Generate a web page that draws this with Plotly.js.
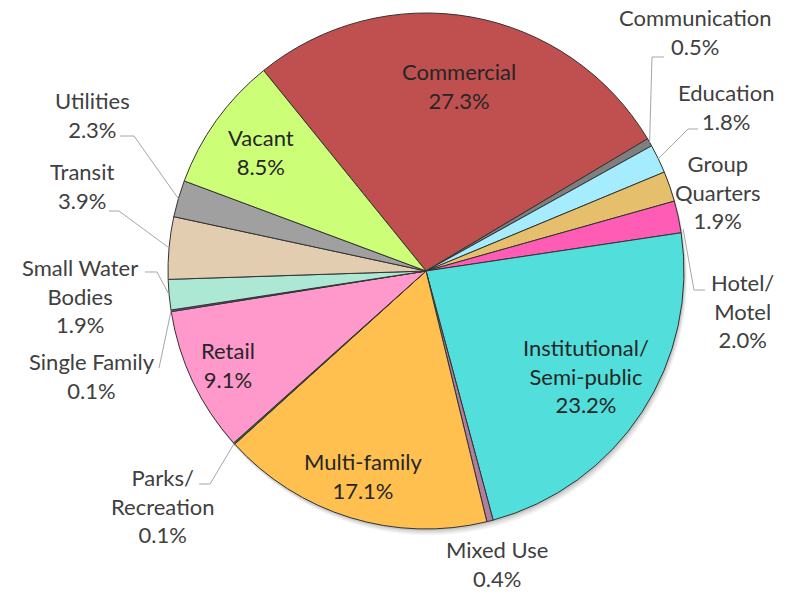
<!DOCTYPE html>
<html><head><meta charset="utf-8">
<script src="https://cdn.plot.ly/plotly-3.0.1.min.js"></script>
<style>html,body{margin:0;padding:0;background:#fff}#chart{width:798px;height:594px}</style>
</head><body><div id="chart"></div>
<script>
// ---- data ----
const categories = ['Commercial','Communication','Education','Group Quarters','Hotel/Motel','Institutional/Semi-public','Mixed Use','Multi-family','Parks/Recreation','Retail','Single Family','Small Water Bodies','Transit','Utilities','Vacant'];
const displayLabels = ['Commercial','Communication','Education','Group<br>Quarters','Hotel/<br>Motel','Institutional/<br>Semi-public','Mixed Use','Multi-family','Parks/<br>Recreation','Retail','Single Family','Small Water<br>Bodies','Transit','Utilities','Vacant'];
const shares = [27.3,0.5,1.8,1.9,2.0,23.2,0.4,17.1,0.1,9.1,0.1,1.9,3.9,2.3,8.5];

// ---- styles ----
const sliceColors = ['#C0504F','#7F7F7F','#A6ECFF','#E6BF6C','#FF5CB6','#52DEDB','#B07FA0','#FFC050','#2E6B3A','#FF99CC','#8064A2','#ADE8D4','#E2CDB0','#A0A0A0','#CCFF77'];

// ---- layout geometry (pixels) ----
const W = 798, H = 594, CX = 426, CY = 271, R = 258, START = -39;
const px = x => x / W, py = y => 1 - y / H;

// label placement (layout only)
const insideRadius = {0:0.73, 5:0.74, 7:0.83, 9:0.85, 14:0.79};
const outsidePlacement = {
  1:  {t:[695,32],  knee:[[664,57],[652,57]]},
  2:  {t:[726,107], knee:[[698,129],[688,129]]},
  3:  {t:[718,192], knee:null},
  4:  {t:[742,311], knee:[[705,290],[694,290]], frac:0.9, rr:1.01},
  6:  {t:[497,564], knee:null},
  8:  {t:[162,506], knee:[[199,484],[210,484]]},
  10: {t:[92,376],  knee:[[159,368]]},
  11: {t:[80,296],  knee:[[145,272],[157,272]]},
  12: {t:[82,186],  knee:[[109,211],[119,211]]},
  13: {t:[92,115],  knee:[[120,136],[134,136]]}
};

const total = shares.reduce((a,b)=>a+b,0);
let cum = 0;
const startFrac = shares.map(v => { const s = cum; cum += v; return s; });
function pointAt(i, frac, rr) {
  const a = (START + 360 * (startFrac[i] + shares[i]*frac) / total) * Math.PI / 180;
  return [CX + rr*R*Math.sin(a), CY - rr*R*Math.cos(a)];
}

const annotations = [];
const shapes = [];
// soft shadow
[[1,2,0.10],[2,4,0.08],[3,6,0.06]].forEach(([dx,dy,o]) => {
  shapes.push({type:'circle', xref:'paper', yref:'paper', layer:'below',
    x0:px(CX-R+dx), x1:px(CX+R+dx), y0:py(CY+R+dy), y1:py(CY-R+dy),
    fillcolor:'rgba(0,0,0,'+o+')', line:{width:0}});
});

shares.forEach((v,i) => {
  const txt = displayLabels[i] + '<br>' + v.toFixed(1) + '%';
  if (insideRadius[i] !== undefined) {
    const [x,y] = pointAt(i, 0.5, insideRadius[i]);
    annotations.push({xref:'paper', yref:'paper', x:px(x), y:py(y), text:txt, showarrow:false,
      xanchor:'center', yanchor:'middle', align:'center', font:{family:'Lato, sans-serif', size:22, color:'#262626'}});
  } else {
    const p = outsidePlacement[i];
    annotations.push({xref:'paper', yref:'paper', x:px(p.t[0]), y:py(p.t[1]), text:txt, showarrow:false,
      xanchor:'center', yanchor:'middle', align:'center', font:{family:'Lato, sans-serif', size:22, color:'#404040'}});
    if (p.knee) {
      const end = pointAt(i, p.frac !== undefined ? p.frac : 0.5, p.rr || 1.0);
      const pts = p.knee.concat([end]);
      const path = pts.map((q,k) => (k ? 'L' : 'M') + px(q[0]).toFixed(5) + ',' + py(q[1]).toFixed(5)).join(' ');
      shapes.push({type:'path', xref:'paper', yref:'paper', path:path, layer:'above',
        line:{color:'#A6A6A6', width:1}});
    }
  }
});

const trace = {
  type:'pie', labels:categories, values:shares, sort:false, direction:'clockwise', rotation:START,
  textinfo:'none', hoverinfo:'label+percent',
  marker:{colors:sliceColors, line:{color:'#333333', width:1}},
  domain:{x:[px(CX-R), px(CX+R)], y:[py(CY+R), py(CY-R)]},
  showlegend:false
};

Plotly.newPlot('chart', [trace], {
  width:W, height:H, margin:{l:0,r:0,t:0,b:0},
  paper_bgcolor:'#ffffff', plot_bgcolor:'#ffffff',
  showlegend:false, annotations:annotations, shapes:shapes
}, {displayModeBar:false, staticPlot:true});
</script>
</body></html>
